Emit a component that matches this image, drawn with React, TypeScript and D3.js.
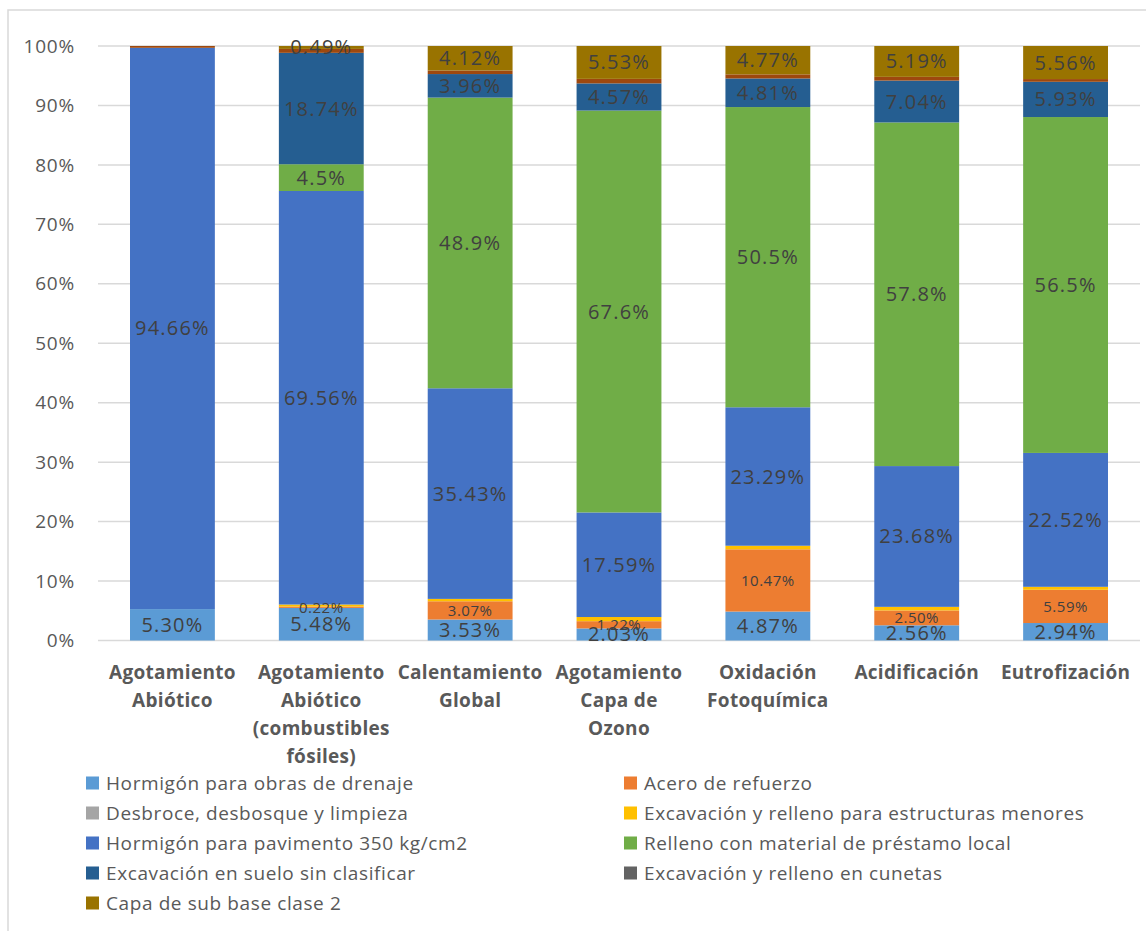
import React from "react";
import * as d3 from "d3";

// Impact categories (each entry is one label line)
const categories: string[][] = [
  ["Agotamiento", "Abiótico"],
  ["Agotamiento", "Abiótico", "(combustibles", "fósiles)"],
  ["Calentamiento", "Global"],
  ["Agotamiento", "Capa de", "Ozono"],
  ["Oxidación", "Fotoquímica"],
  ["Acidificación"],
  ["Eutrofización"],
];

const yTicks = [0, 0.1, 0.2, 0.3, 0.4, 0.5, 0.6, 0.7, 0.8, 0.9, 1];

// Contribution (%) of each construction item, bottom to top of the stack
const drenaje = [5.3, 5.48, 3.53, 2.03, 4.87, 2.56, 2.94];
const acero = [0, 0.22, 3.07, 1.22, 10.47, 2.5, 5.59];
const desbroce = [0, 0, 0, 0, 0, 0, 0];
const estructuras = [0, 0.35, 0.4, 0.7, 0.6, 0.6, 0.5];
const pavimento = [94.66, 69.56, 35.43, 17.59, 23.29, 23.68, 22.52];
const relleno = [0, 4.5, 48.9, 67.6, 50.5, 57.8, 56.5];
const sueloSinClasificar = [0, 18.74, 3.96, 4.57, 4.81, 7.04, 5.93];
const otros = [0.3, 0.66, 0.6, 0.76, 0.69, 0.63, 0.46];
const cunetas = [0, 0, 0, 0, 0, 0, 0];
const subBase = [0, 0.49, 4.12, 5.53, 4.77, 5.19, 5.56];

type Serie = {
  key: string;
  name: string;
  color: string;
  values: number[];
  legend: boolean;
  label: "big" | "small" | null;
  digits: number;
};

const series: Serie[] = [
  { key: "drenaje", name: "Hormigón para obras de drenaje", color: "#5B9BD5", values: drenaje, legend: true, label: "big", digits: 2 },
  { key: "acero", name: "Acero de refuerzo", color: "#ED7D31", values: acero, legend: true, label: "small", digits: 2 },
  { key: "desbroce", name: "Desbroce, desbosque y limpieza", color: "#A5A5A5", values: desbroce, legend: true, label: null, digits: 2 },
  { key: "estructuras", name: "Excavación y relleno para estructuras menores", color: "#FFC000", values: estructuras, legend: true, label: null, digits: 2 },
  { key: "pavimento", name: "Hormigón para pavimento 350 kg/cm2", color: "#4472C4", values: pavimento, legend: true, label: "big", digits: 2 },
  { key: "relleno", name: "Relleno con material de préstamo local", color: "#70AD47", values: relleno, legend: true, label: "big", digits: 1 },
  { key: "suelo", name: "Excavación en suelo sin clasificar", color: "#255E91", values: sueloSinClasificar, legend: true, label: "big", digits: 2 },
  { key: "otros", name: "Otros", color: "#9E480E", values: otros, legend: false, label: null, digits: 2 },
  { key: "cunetas", name: "Excavación y relleno en cunetas", color: "#636363", values: cunetas, legend: true, label: null, digits: 2 },
  { key: "subbase", name: "Capa de sub base clase 2", color: "#997300", values: subBase, legend: true, label: "big", digits: 2 },
];

const W = 1146;
const H = 931;
const plot = { left: 98, right: 1140, top: 46, bottom: 640.5 };
const FONT = "'Open Sans', 'Noto Sans', sans-serif";

export default function App() {
  const rows = categories.map((_, i) => {
    const r: Record<string, number> = { i };
    series.forEach((s) => (r[s.key] = s.values[i]));
    return r;
  });

  const stack = d3
    .stack<Record<string, number>>()
    .keys(series.map((s) => s.key))
    .offset(d3.stackOffsetExpand);
  const stacked = stack(rows);

  const x = d3
    .scaleBand<number>()
    .domain(categories.map((_, i) => i))
    .range([plot.left, plot.right])
    .paddingInner(0.43)
    .paddingOuter(0.215);
  const y = d3.scaleLinear().domain([0, 1]).range([plot.bottom, plot.top]);
  const pct = d3.format(".0%");

  const legendItems = series.filter((s) => s.legend);

  return (
    <svg
      width={W}
      height={H}
      style={{ position: "absolute", left: 0, top: 0, background: "#fff" }}
      fontFamily={FONT}
    >
      <rect x={8} y={10} width={W + 10} height={H + 10} fill="#fff" stroke="#D9D9D9" strokeWidth={1.5} />

      {/* gridlines and y axis labels */}
      {yTicks.map((t) => (
        <g key={t}>
          <line x1={plot.left} x2={plot.right} y1={y(t)} y2={y(t)} stroke="#D9D9D9" strokeWidth={1.5} />
          <text x={75} y={y(t)} dy="0.35em" textAnchor="end" fontSize={19} letterSpacing={0.8} fill="#595959">
            {pct(t)}
          </text>
        </g>
      ))}

      {/* stacked bars */}
      {stacked.map((layer, si) => (
        <g key={layer.key} fill={series[si].color}>
          {layer.map((d, ci) => {
            const h = y(d[0]) - y(d[1]);
            if (h <= 0) return null;
            return <rect key={ci} x={x(ci)} y={y(d[1])} width={x.bandwidth()} height={h} />;
          })}
        </g>
      ))}

      {/* value labels */}
      {stacked.map((layer, si) => {
        const s = series[si];
        if (!s.label) return null;
        return (
          <g key={"lbl" + layer.key}>
            {layer.map((d, ci) => {
              const v = s.values[ci];
              if (!v) return null;
              const big = s.label === "big";
              return (
                <text
                  key={ci}
                  x={(x(ci) as number) + x.bandwidth() / 2}
                  y={y((d[0] + d[1]) / 2)}
                  dy="0.35em"
                  textAnchor="middle"
                  fontSize={big ? 20 : 15}
                  letterSpacing={big ? 1.2 : 0.5}
                  fill="#404040"
                >
                  {v.toFixed(s.digits) + "%"}
                </text>
              );
            })}
          </g>
        );
      })}

      {/* category labels */}
      {categories.map((lines, ci) => (
        <text
          key={ci}
          x={(x(ci) as number) + x.bandwidth() / 2}
          textAnchor="middle"
          fontSize={19}
          letterSpacing={0.3}
          fontWeight="bold"
          fill="#595959"
        >
          {lines.map((ln, li) => (
            <tspan key={li} x={(x(ci) as number) + x.bandwidth() / 2} y={672 + li * 28} dy="0.35em">
              {ln}
            </tspan>
          ))}
        </text>
      ))}

      {/* legend */}
      {legendItems.map((s, i) => {
        const col = i % 2;
        const row = Math.floor(i / 2);
        const lx = col === 0 ? 86 : 624;
        const ly = 783 + row * 30;
        return (
          <g key={s.key}>
            <rect x={lx} y={ly - 6.5} width={13} height={13} fill={s.color} />
            <text x={lx + 20} y={ly} dy="0.35em" fontSize={19} letterSpacing={0.6} fill="#595959">
              {s.name}
            </text>
          </g>
        );
      })}
    </svg>
  );
}
